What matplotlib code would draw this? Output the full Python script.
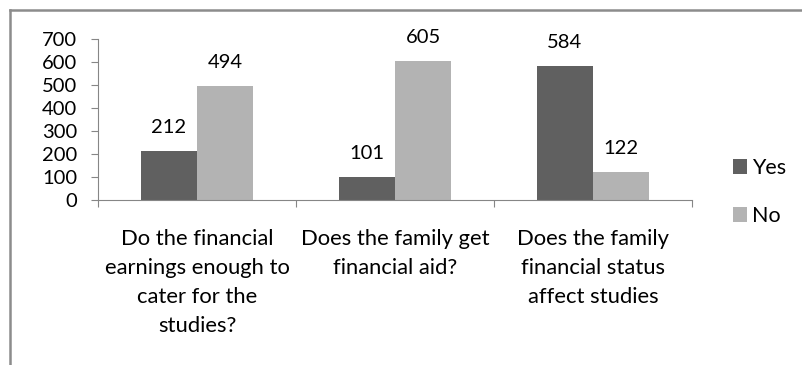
import matplotlib.pyplot as plt
import numpy as np
from matplotlib.lines import Line2D

plt.rcParams['font.family'] = ['Lato', 'DejaVu Sans']

# survey answers per question
questions = ['Do the financial\nearnings enough to\ncater for the\nstudies?',
             'Does the family get\nfinancial aid?',
             'Does the family\nfinancial status\naffect studies']
yes_counts = [212, 101, 584]
no_counts = [494, 605, 122]
series_names = ['Yes', 'No']

dark = '#606060'
light = '#b3b3b3'
axis_gray = '#868686'

fig = plt.figure(figsize=(8.02, 3.65), dpi=100)
ax = fig.add_axes([98 / 802, 1 - 200 / 365, 594 / 802, 161 / 365])

x = np.arange(len(questions))
w = 0.285
b1 = ax.bar(x - w / 2, yes_counts, width=w, color=dark, label=series_names[0])
b2 = ax.bar(x + w / 2, no_counts, width=w, color=light, label=series_names[1])

for bars, vals in ((b1, yes_counts), (b2, no_counts)):
    for rect, v in zip(bars, vals):
        ax.annotate(str(v), (rect.get_x() + rect.get_width() / 2, v),
                    xytext=(0, 13), textcoords='offset points',
                    ha='center', va='baseline', fontsize=14.5)

ax.set_xlim(-0.5, len(questions) - 0.5)
ax.set_ylim(0, 700)
ax.set_yticks(range(0, 701, 100))
ax.tick_params(axis='y', labelsize=14.5, length=5, color=axis_gray, pad=10)

# category boundary ticks, labels placed as text below
ax.set_xticks(np.arange(-0.5, len(questions), 1.0))
ax.set_xticklabels([])
ax.tick_params(axis='x', length=5, color=axis_gray)
for i, q in enumerate(questions):
    ax.annotate(q, (i, 0), xycoords=('data', 'axes fraction'),
                xytext=(0, -21), textcoords='offset points',
                ha='center', va='top', fontsize=15.8, linespacing=1.55)

for side in ('top', 'right'):
    ax.spines[side].set_visible(False)
for side in ('left', 'bottom'):
    ax.spines[side].set_color(axis_gray)

leg = ax.legend(loc='center left', bbox_to_anchor=(1.055, 0.05), frameon=False,
                fontsize=15.5, handlelength=0.65, handleheight=0.65,
                handletextpad=0.2, labelspacing=1.3, borderaxespad=0)

# chart area border (top and left only)
fig.add_artist(Line2D([10 / 802, 1], [1 - 10 / 365, 1 - 10 / 365], color='#8c8c8c', lw=1.8))
fig.add_artist(Line2D([10 / 802, 10 / 802], [0, 1 - 10 / 365], color='#8c8c8c', lw=1.8))

fig.savefig('out.png', dpi=100)
